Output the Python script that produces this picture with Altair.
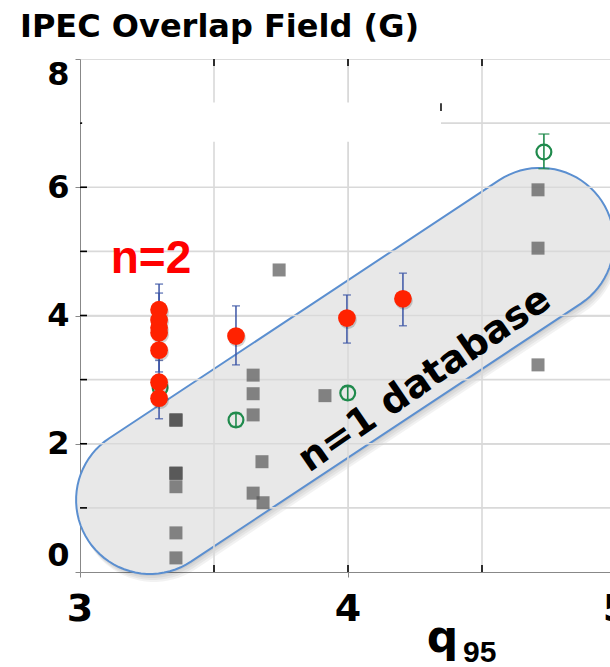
import numpy as np
import pandas as pd
import altair as alt

# ---------------------------------------------------------------
# Data
# ---------------------------------------------------------------
# n=2 shots: IPEC overlap field with error bars
red_q95 = [3.295, 3.295, 3.295, 3.295, 3.295, 3.295, 3.295, 3.582, 3.996, 4.205]
red_field = [4.09, 3.93, 3.81, 3.73, 3.46, 2.96, 2.71, 3.68, 3.96, 4.26]
red_low = [3.72, 3.55, 3.45, 3.37, 3.12, 2.61, 2.39, 3.23, 3.57, 3.84]
red_high = [4.49, 4.35, 4.18, 4.10, 3.80, 3.30, 3.05, 4.15, 4.32, 4.66]

# n=1 shots with error bars (open circles)
green_q95 = [3.299, 3.582, 3.999, 4.731]
green_field = [2.87, 2.37, 2.79, 6.55]
green_low = [2.77, 2.27, 2.69, 6.29]
green_high = [2.97, 2.47, 2.89, 6.83]

# n=1 database (squares; repeated shots stack up darker)
grey_q95 = [3.358, 3.358, 3.358, 3.358, 3.358, 3.358, 3.358, 3.358, 3.358,
            3.646, 3.646, 3.646, 3.679, 3.646, 3.683, 3.743, 3.914,
            4.709, 4.709, 4.709]
grey_field = [2.37, 2.37, 2.37, 1.54, 1.54, 1.54, 1.33, 0.61, 0.22,
              3.07, 2.78, 2.45, 1.72, 1.23, 1.08, 4.71, 2.75,
              5.96, 5.05, 3.23]

# axis tick values
x_labels = [3, 4, 5]
x_grid = [3.5, 4.0, 4.5]
y_labels = [0, 2, 4, 6, 8]
y_grid = [1, 2, 3, 4, 5, 6, 7]

# band enclosing the n=1 database: centre
band_q95 = [3.989]
band_field = [3.136]

# blank (legend) box in the upper-left of the plot
blank_q95 = [3.008, 4.347]
blank_field = [6.71, 7.32]

# ---------------------------------------------------------------
FONT = "DejaVu Sans"
W, H = 536, 513

red = pd.DataFrame({"q95": red_q95, "field": red_field, "lo": red_low, "hi": red_high})
green = pd.DataFrame({"q95": green_q95, "field": green_field, "lo": green_low, "hi": green_high})
grey = pd.DataFrame({"q95": grey_q95, "field": grey_field})
band = pd.DataFrame({"q95": band_q95, "field": band_field})
gx = pd.DataFrame({"v": x_grid})
gy = pd.DataFrame({"v": y_grid})
xl = pd.DataFrame({"v": x_labels, "t": [str(v) for v in x_labels]})
blank = pd.DataFrame({"x1": [blank_q95[0]], "x2": [blank_q95[1]],
                      "y1": [blank_field[0]], "y2": [blank_field[1]]})

xs = alt.Scale(domain=[3, 5], nice=False, zero=False)
ys = alt.Scale(domain=[0, 8], nice=False, zero=False)

# x tick labels are drawn as a text layer below; the axis carries the title
x_axis = alt.Axis(values=x_labels, labels=False, titleFontSize=44,
                  titleFont=FONT, titleFontWeight="bold", titleX=362,
                  titleY=79, titleBaseline="alphabetic", titleAlign="center")
y_axis = alt.Axis(values=y_labels, format="d", labelFont=FONT,
                  labelFontWeight="bold", labelFontSize=32, labelPadding=6,
                  labelFlush=True, labelOverlap=False)


def X(f):
    return alt.X(f, type="quantitative", scale=xs, axis=x_axis, title="q")


def Y(f):
    return alt.Y(f, type="quantitative", scale=ys, axis=y_axis, title=None)


# stadium outline in the symbol's unit box (long axis along x)
w = 0.2404
a = 1 - w
t1 = np.linspace(-np.pi / 2, np.pi / 2, 41)
t2 = np.linspace(np.pi / 2, 3 * np.pi / 2, 41)
pts = [(a + w * np.cos(t), w * np.sin(t)) for t in t1] + \
      [(-a + w * np.cos(t), w * np.sin(t)) for t in t2]
stadium = "M" + " L".join(f"{px:.4f},{py:.4f}" for px, py in pts) + " Z"
BAND_SIZE = 615.6 ** 2
BAND_ANGLE = 326.5

layers = []

# soft shadow under the band
for dx, dy in [(1, 2), (2, 4), (3, 6), (4, 8)]:
    layers.append(
        alt.Chart(band).mark_point(
            shape=stadium, size=BAND_SIZE, angle=BAND_ANGLE, filled=True,
            fill="black", opacity=0.05, strokeWidth=0, xOffset=dx, yOffset=dy
        ).encode(x=X("q95"), y=Y("field"))
    )

# the band itself
layers.append(
    alt.Chart(band).mark_point(
        shape=stadium, size=BAND_SIZE, angle=BAND_ANGLE, filled=True,
        fill="#e8e8e8", stroke="#5b8fd0", strokeWidth=2, opacity=1,
        fillOpacity=1, strokeOpacity=1
    ).encode(x=X("q95"), y=Y("field"))
)

# grid lines
layers.append(alt.Chart(gx).mark_rule(color="#d9d9d9", strokeWidth=1.6)
              .encode(x=X("v")))
layers.append(alt.Chart(gy).mark_rule(color="#d9d9d9", strokeWidth=1.6)
              .encode(y=Y("v")))

# inward tick marks
layers.append(alt.Chart(gx).mark_rule(color="black", strokeWidth=1.6)
              .encode(x=X("v"), y=alt.value(H), y2=alt.value(H - 7)))
layers.append(alt.Chart(gx).mark_rule(color="black", strokeWidth=1.6)
              .encode(x=X("v"), y=alt.value(0), y2=alt.value(7)))
layers.append(alt.Chart(gy).mark_rule(color="black", strokeWidth=1.6)
              .encode(y=Y("v"), x=alt.value(0), x2=alt.value(7)))

# x tick labels
layers.append(alt.Chart(xl).mark_text(
    font=FONT, fontWeight="bold", fontSize=38, color="black",
    align="center", baseline="top"
).encode(x=X("v"), y=alt.value(H + 19), text="t:N"))

# empty legend box hiding the grid, with its right-hand edge mark
layers.append(alt.Chart(blank).mark_rect(color="white")
              .encode(x=X("x1"), x2="x2", y=Y("y1"), y2="y2"))
edge = pd.DataFrame({"x": [blank_q95[1]], "y1": [7.19], "y2": [7.31]})
layers.append(alt.Chart(edge).mark_rule(color="black", strokeWidth=1.5)
              .encode(x=X("x"), y=Y("y1"), y2="y2"))

# n=1 database squares
layers.append(alt.Chart(grey).mark_square(size=169, color="#555555", opacity=0.7)
              .encode(x=X("q95"), y=Y("field")))

# n=1 shots with error bars
GREEN = "#1f8a4c"
layers.append(alt.Chart(green).mark_rule(color=GREEN, strokeWidth=1.6)
              .encode(x=X("q95"), y=Y("lo"), y2="hi"))
for col in ["lo", "hi"]:
    layers.append(alt.Chart(green).mark_tick(color=GREEN, orient="horizontal",
                                             size=11, thickness=1.6)
                  .encode(x=X("q95"), y=Y(col)))
layers.append(alt.Chart(green).mark_point(shape="circle", filled=False, size=220,
                                          strokeWidth=2.2, color=GREEN, opacity=1)
              .encode(x=X("q95"), y=Y("field")))

# n=2 shots with error bars
BLUE = "#3c55a5"
layers.append(alt.Chart(red).mark_rule(color=BLUE, strokeWidth=1.5)
              .encode(x=X("q95"), y=Y("lo"), y2="hi"))
for col in ["lo", "hi"]:
    layers.append(alt.Chart(red).mark_tick(color=BLUE, orient="horizontal",
                                           size=8, thickness=1.5)
                  .encode(x=X("q95"), y=Y(col)))
layers.append(alt.Chart(red).mark_circle(size=314, color="black", opacity=0.18,
                                         xOffset=1, yOffset=2)
              .encode(x=X("q95"), y=Y("field")))
layers.append(alt.Chart(red).mark_circle(size=314, color="#ff2200", opacity=1)
              .encode(x=X("q95"), y=Y("field")))

# annotations
lab_band = pd.DataFrame({"q95": [4.287], "field": [2.995], "t": ["n=1 database"]})
layers.append(alt.Chart(lab_band).mark_text(
    font=FONT, fontWeight="bold", fontSize=38, angle=325.5, color="black",
    align="center", baseline="middle"
).encode(x=X("q95"), y=Y("field"), text="t:N"))

lab_n2 = pd.DataFrame({"q95": [3.265], "field": [4.66], "t": ["n=2"]})
layers.append(alt.Chart(lab_n2).mark_text(
    font="Liberation Sans", fontWeight="bold", fontSize=46, color="#ff0000",
    align="center", baseline="alphabetic"
).encode(x=X("q95"), y=Y("field"), text="t:N"))

# subscript of the x-axis title (q95)
sub = pd.DataFrame({"t": ["95"]})
layers.append(alt.Chart(sub).mark_text(
    font="Liberation Sans", fontWeight="bold", fontSize=30, color="black",
    align="left", baseline="alphabetic"
).encode(x=alt.value(383), y=alt.value(H + 90), text="t:N"))

chart = alt.layer(*layers).properties(
    width=W, height=H,
    autosize=alt.AutoSizeParams(type="none"),
    padding={"left": 80, "top": 59, "right": -6, "bottom": 95},
    title=alt.TitleParams("IPEC Overlap Field (G)", anchor="start", frame="group",
                          font=FONT, fontSize=32, fontWeight="bold",
                          color="black", dx=-60, offset=14),
).configure_view(
    stroke="black", strokeWidth=2
).configure_axis(
    domain=False, ticks=False, grid=False, labelColor="black", titleColor="black"
).configure(background="white")

chart.save("out.html", embed_options={"renderer": "svg", "actions": False})
